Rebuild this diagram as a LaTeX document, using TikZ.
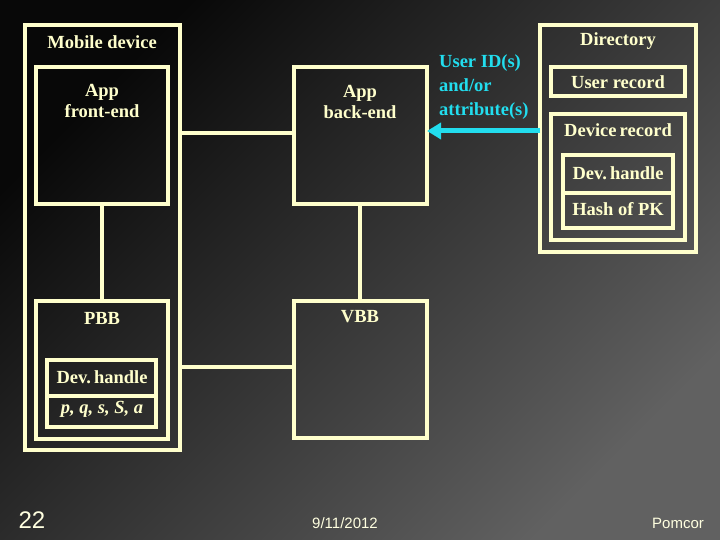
\documentclass[tikz,border=0pt]{standalone}
\usepackage{fontspec}
\setmainfont{Liberation Serif}
\setsansfont{Liberation Sans}
\usetikzlibrary{arrows.meta}
\definecolor{cream}{HTML}{FFFFCC}
\definecolor{cy}{HTML}{22DDEE}
\begin{document}
\begin{tikzpicture}[x=1pt,y=-1pt,
  bx/.style={draw=cream,line width=4pt},
  ln/.style={draw=cream,line width=4pt},
  lb/.style={text=cream,font=\bfseries\fontsize{18.5}{21}\selectfont,align=center,inner sep=0pt}]
\shade[top color=black!97,bottom color=black!62,shading angle=45] (0,0) rectangle (720,540);
\useasboundingbox (0,0) rectangle (720,540);
% mobile device
\draw[bx] (25,25) rectangle (180,450);
\node[lb] (md) at (102,42) {Mobile device};
\draw[bx] (36,67) rectangle (168,204);
\node[lb] (fe) at (102,101) {App\\front-end};
\draw[bx] (36,301) rectangle (168,439);
\node[lb] (pbb) at (102,318) {PBB};
\draw[bx] (47,360) rectangle (156,427);
\draw[ln] (47,396) -- (156,396);
\node[lb] (dh1) at (102,377) {Dev.\,handle};
\node[lb] (pq) at (102,409) {\itshape p, q, s, S, a};
% back-end
\draw[bx] (294,67) rectangle (427,204);
\node[lb] (be) at (360,102) {App\\back-end};
\draw[bx] (294,301) rectangle (427,438);
\node[lb] (vbb) at (360,317) {VBB};
% connectors
\coordinate (a1) at (180,133); \coordinate (a2) at (294,133);
\draw[ln] (a1) -- (a2);
\coordinate (b1) at (180,367); \coordinate (b2) at (294,367);
\draw[ln] (b1) -- (b2);
\coordinate (c1) at (102,204); \coordinate (c2) at (102,301);
\draw[ln] (c1) -- (c2);
\coordinate (d1) at (360,204); \coordinate (d2) at (360,301);
\draw[ln] (d1) -- (d2);
% directory
\draw[bx] (540,25) rectangle (696,252);
\node[lb] (dir) at (618,41) {Directory};
\draw[bx] (551,67) rectangle (685,96);
\node[lb] (ur) at (618,82) {User record};
\draw[bx] (551,114) rectangle (685,240);
\node[lb] (dr) at (618,130) {Device\,record};
\draw[bx] (563,155) rectangle (673,228);
\draw[ln] (563,193) -- (673,193);
\node[lb] (dh2) at (618,173) {Dev.\,handle};
\node[lb] (hpk) at (618,209) {Hash of PK};
% arrow
\coordinate (e1) at (540,131); \coordinate (e2) at (427,131);
\draw[cy,line width=5pt,-{Triangle[length=14pt,width=16pt]}] (e1) -- (e2);
\node[lb,text=cy,align=left,anchor=north west,font=\bfseries\fontsize{18.5}{24}\selectfont] (uid) at (439,54) {User ID(s)\\and/or\\attribute(s)};
% footer
\node[text=cream!60!white,font=\sffamily\fontsize{24}{26}\selectfont] (n22) at (32,520) {22};
\node[text=cream!60!white,font=\sffamily\fontsize{15}{16}\selectfont] (dt) at (345,523) {9/11/2012};
\node[text=cream!60!white,font=\sffamily\fontsize{15}{16}\selectfont] (pc) at (678,523) {Pomcor};
\end{tikzpicture}
\end{document}
